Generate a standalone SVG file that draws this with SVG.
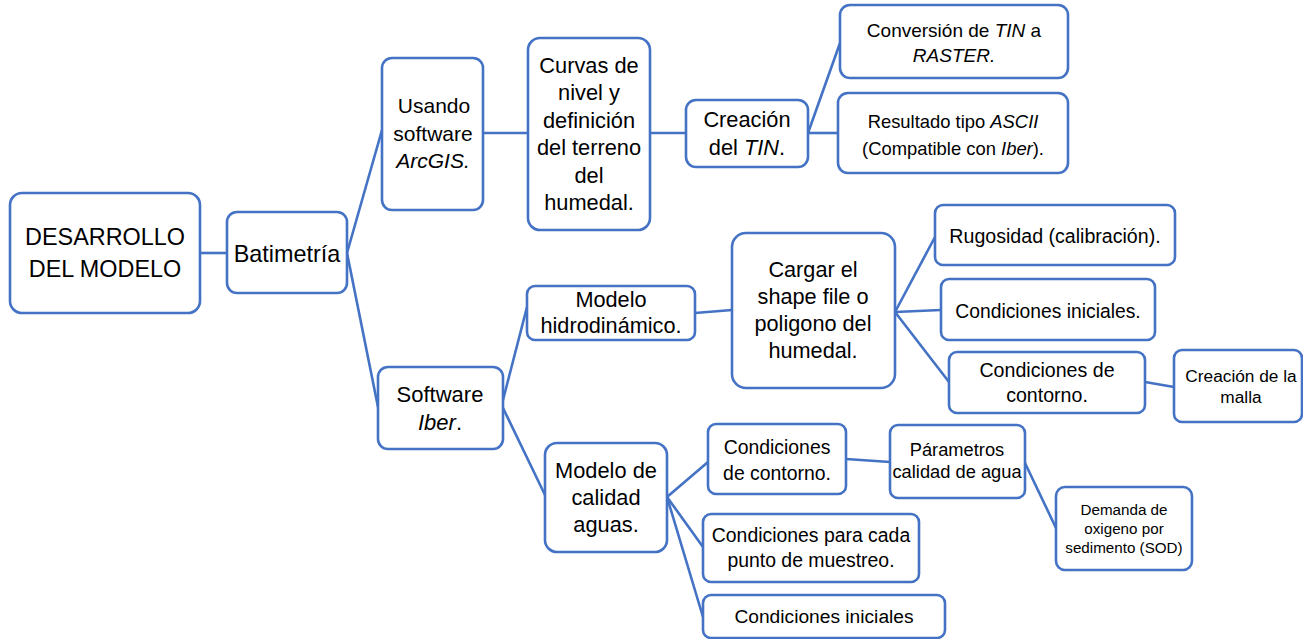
<svg xmlns="http://www.w3.org/2000/svg" width="1303" height="639" viewBox="0 0 1303 639">
<style>
.box{fill:#fff;stroke:#4472C4;stroke-width:2.6}
.c line{stroke:#4472C4;stroke-width:2.6}
text{font-family:"Liberation Sans",Arial,sans-serif;fill:#000;text-anchor:middle}
.i{font-style:italic}
</style>
<rect width="1303" height="639" fill="#fff"/>
<g class="c">
<line x1="200" y1="253" x2="227" y2="253"/>
<line x1="347" y1="253" x2="382" y2="130"/>
<line x1="347" y1="253" x2="378" y2="407"/>
<line x1="483" y1="133" x2="528" y2="133"/>
<line x1="650" y1="133" x2="686" y2="133"/>
<line x1="808" y1="133" x2="840" y2="43"/>
<line x1="808" y1="133" x2="838" y2="133"/>
<line x1="503" y1="400" x2="527" y2="307"/>
<line x1="503" y1="408" x2="545" y2="495"/>
<line x1="695" y1="313" x2="732" y2="310"/>
<line x1="895" y1="312" x2="935" y2="237"/>
<line x1="895" y1="312" x2="941" y2="310"/>
<line x1="895" y1="312" x2="949" y2="382"/>
<line x1="1145" y1="382" x2="1174" y2="387"/>
<line x1="667" y1="497" x2="708" y2="462"/>
<line x1="667" y1="497" x2="703" y2="547"/>
<line x1="667" y1="497" x2="703" y2="617"/>
<line x1="846" y1="459" x2="890" y2="462"/>
<line x1="1025" y1="463" x2="1056" y2="528"/>
</g>
<g id="desarrollo"><rect class="box" x="10" y="193" width="190" height="120" rx="12"/>
<text font-size="23.4"><tspan x="105" y="245">DESARROLLO</tspan><tspan x="105" y="277">DEL MODELO</tspan></text></g>
<g id="batimetria"><rect class="box" x="227" y="212" width="120" height="81" rx="10"/>
<text font-size="23.4" x="287" y="262">Batimetría</text></g>
<g id="usando"><rect class="box" x="382" y="58" width="101" height="152" rx="10"/>
<text font-size="21"><tspan x="434" y="113">Usando</tspan><tspan x="433" y="141">software</tspan><tspan x="433" y="168" class="i">ArcGIS.</tspan></text></g>
<g id="curvas"><rect class="box" x="528" y="38" width="122" height="192" rx="12"/>
<text font-size="21.8"><tspan x="589" y="73">Curvas de</tspan><tspan x="589" y="100.4">nivel y</tspan><tspan x="589" y="127.8">definición</tspan><tspan x="589" y="155.2">del terreno</tspan><tspan x="589" y="182.6">del</tspan><tspan x="589" y="210">humedal.</tspan></text></g>
<g id="creacion-tin"><rect class="box" x="686" y="100" width="122" height="67" rx="10"/>
<text font-size="21.8"><tspan x="747" y="127">Creación</tspan><tspan x="747" y="155">del <tspan class="i">TIN</tspan>.</tspan></text></g>
<g id="conversion"><rect class="box" x="840" y="5" width="228" height="73" rx="10"/>
<text font-size="19"><tspan x="954" y="37">Conversión de <tspan class="i">TIN</tspan> a</tspan><tspan x="954" y="62" class="i">RASTER.</tspan></text></g>
<g id="resultado"><rect class="box" x="838" y="93" width="230" height="80" rx="10"/>
<text font-size="18.4"><tspan x="953" y="128">Resultado tipo <tspan class="i">ASCII</tspan></tspan><tspan x="953" y="155">(Compatible con <tspan class="i">Iber</tspan>).</tspan></text></g>
<g id="software-iber"><rect class="box" x="378" y="367" width="125" height="82" rx="10"/>
<text font-size="22"><tspan x="440" y="402">Software</tspan><tspan x="440" y="430"><tspan class="i">Iber</tspan>.</tspan></text></g>
<g id="hidro"><rect class="box" x="527" y="286" width="168" height="54" rx="8"/>
<text font-size="21.7"><tspan x="611" y="307">Modelo</tspan><tspan x="611" y="333">hidrodinámico.</tspan></text></g>
<g id="cargar"><rect class="box" x="732" y="233" width="163" height="155" rx="14"/>
<text font-size="21.7"><tspan x="813" y="277">Cargar el</tspan><tspan x="813" y="304">shape file o</tspan><tspan x="813" y="331">poligono del</tspan><tspan x="813" y="358">humedal.</tspan></text></g>
<g id="rugosidad"><rect class="box" x="935" y="205" width="240" height="60" rx="8"/>
<text font-size="19.6" x="1055" y="243">Rugosidad (calibración).</text></g>
<g id="cond-iniciales-h"><rect class="box" x="941" y="279" width="214" height="61" rx="8"/>
<text font-size="19.3" x="1048" y="318">Condiciones iniciales.</text></g>
<g id="cond-contorno-h"><rect class="box" x="949" y="352" width="196" height="61" rx="8"/>
<text font-size="19.6"><tspan x="1047" y="377">Condiciones de</tspan><tspan x="1047" y="402">contorno.</tspan></text></g>
<g id="malla"><rect class="box" x="1174" y="350" width="128" height="72" rx="8"/>
<text font-size="17.3"><tspan x="1241" y="382">Creación de la</tspan><tspan x="1241" y="403">malla</tspan></text></g>
<g id="calidad"><rect class="box" x="545" y="443" width="122" height="109" rx="12"/>
<text font-size="21.8"><tspan x="606" y="478">Modelo de</tspan><tspan x="606" y="505">calidad</tspan><tspan x="606" y="532">aguas.</tspan></text></g>
<g id="cond-contorno-c"><rect class="box" x="708" y="424" width="138" height="70" rx="8"/>
<text font-size="19.4"><tspan x="777" y="454">Condiciones</tspan><tspan x="777" y="480">de contorno.</tspan></text></g>
<g id="parametros"><rect class="box" x="890" y="425" width="135" height="73" rx="8"/>
<text font-size="18.3"><tspan x="957" y="456">Párametros</tspan><tspan x="957" y="478">calidad de agua</tspan></text></g>
<g id="demanda"><rect class="box" x="1056" y="487" width="136" height="83" rx="9"/>
<text font-size="15.2"><tspan x="1124" y="515">Demanda de</tspan><tspan x="1124" y="534">oxigeno por</tspan><tspan x="1124" y="553">sedimento (SOD)</tspan></text></g>
<g id="para-cada"><rect class="box" x="703" y="514" width="216" height="68" rx="8"/>
<text font-size="19.4"><tspan x="811" y="542">Condiciones para cada</tspan><tspan x="811" y="567">punto de muestreo.</tspan></text></g>
<g id="cond-iniciales-c"><rect class="box" x="703" y="595" width="242" height="43" rx="8"/>
<text font-size="19.2" x="824" y="623">Condiciones iniciales</text></g>
</svg>
